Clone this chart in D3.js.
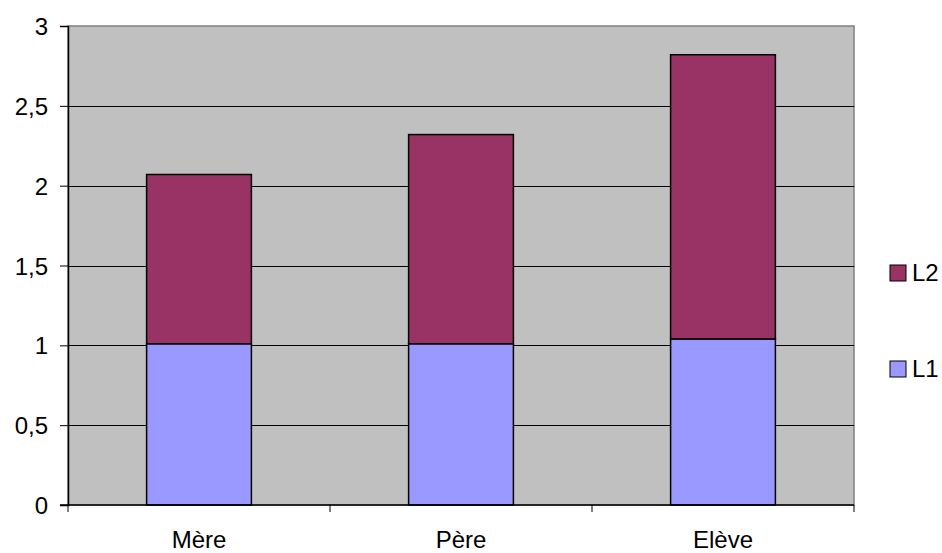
<!DOCTYPE html>
<html>
<head>
<meta charset="utf-8">
<script src="https://cdn.jsdelivr.net/npm/d3@7"></script>
<style>
  body { margin: 0; background: #fff; }
  svg text { font-family: "Liberation Sans", Arial, sans-serif; fill: #000; }
</style>
</head>
<body>
<svg id="chart" width="942" height="553"></svg>
<script>
// Chart data
const categories = ["Mère", "Père", "Elève"];
const seriesNames = ["L1", "L2"];
const valuesL1 = [1.01, 1.01, 1.04];
const valuesL2 = [1.06, 1.31, 1.78];
const yTicks = [0, 0.5, 1, 1.5, 2, 2.5, 3];
const colors = { L1: "#9999FF", L2: "#993366" };

const FONT = 24;
const svg = d3.select("#chart");
const plot = { left: 68, right: 854, top: 26, bottom: 505 };

const x = d3.scaleBand()
  .domain(categories)
  .range([plot.left, plot.right])
  .paddingInner(0.6)
  .paddingOuter(0.3);

const y = d3.scaleLinear().domain([0, 3]).range([plot.bottom, plot.top]);

// Plot area background
svg.append("rect")
  .attr("x", plot.left).attr("y", plot.top)
  .attr("width", plot.right - plot.left).attr("height", plot.bottom - plot.top)
  .attr("fill", "#C0C0C0")
  .attr("stroke", "#808080").attr("stroke-width", 1.5);

// Horizontal gridlines
svg.append("g").selectAll("line")
  .data(yTicks.filter(d => d > 0 && d < 3))
  .join("line")
  .attr("x1", plot.left).attr("x2", plot.right)
  .attr("y1", d => Math.round(y(d)) + 0.5).attr("y2", d => Math.round(y(d)) + 0.5)
  .attr("stroke", "#000").attr("stroke-width", 1);

// Stacked bars
const rows = categories.map((c, i) => ({ cat: c, L1: valuesL1[i], L2: valuesL2[i] }));
const stacked = d3.stack().keys(seriesNames)(rows);

svg.append("g").selectAll("g")
  .data(stacked)
  .join("g")
  .attr("fill", d => colors[d.key])
  .selectAll("rect")
  .data(d => d)
  .join("rect")
  .attr("x", d => x(d.data.cat))
  .attr("width", x.bandwidth())
  .attr("y", d => y(d[1]))
  .attr("height", d => y(d[0]) - y(d[1]))
  .attr("stroke", "#000")
  .attr("stroke-width", 1.5);

// Y axis
const yAxis = d3.axisLeft(y)
  .tickValues(yTicks)
  .tickSize(8)
  .tickPadding(12)
  .tickFormat(d => String(d).replace(".", ","));
const yg = svg.append("g").attr("transform", `translate(${plot.left},0)`).call(yAxis);
yg.attr("font-family", null).attr("font-size", null);
yg.select(".domain").attr("stroke", "#000").attr("stroke-width", 1.5);
yg.selectAll(".tick line").attr("stroke", "#000");
yg.selectAll("text").attr("font-size", FONT).attr("dy", "0.36em");

// X axis with ticks at category boundaries
const xg = svg.append("g").attr("transform", `translate(0,${plot.bottom})`);
xg.append("line")
  .attr("x1", plot.left - 8).attr("x2", plot.right)
  .attr("stroke", "#000").attr("stroke-width", 1.5);
const edges = [plot.left].concat(categories.map((c, i) => plot.left + x.step() * (i + 1)));
xg.selectAll("line.tick")
  .data(edges)
  .join("line")
  .attr("class", "tick")
  .attr("x1", d => d).attr("x2", d => d)
  .attr("y1", 0).attr("y2", 7)
  .attr("stroke", "#000").attr("stroke-width", 1);
xg.selectAll("text")
  .data(categories)
  .join("text")
  .attr("x", d => x(d) + x.bandwidth() / 2)
  .attr("y", 43)
  .attr("text-anchor", "middle")
  .attr("font-size", FONT)
  .text(d => d);

// Legend
const legendItems = [
  { key: "L2", y: 265 },
  { key: "L1", y: 361 }
];
const lg = svg.append("g");
legendItems.forEach(item => {
  lg.append("rect")
    .attr("x", 890).attr("y", item.y)
    .attr("width", 16).attr("height", 16)
    .attr("fill", colors[item.key])
    .attr("stroke", "#000").attr("stroke-width", 1);
  lg.append("text")
    .attr("x", 912).attr("y", item.y + 16)
    .attr("font-size", FONT)
    .text(item.key);
});
</script>
</body>
</html>
